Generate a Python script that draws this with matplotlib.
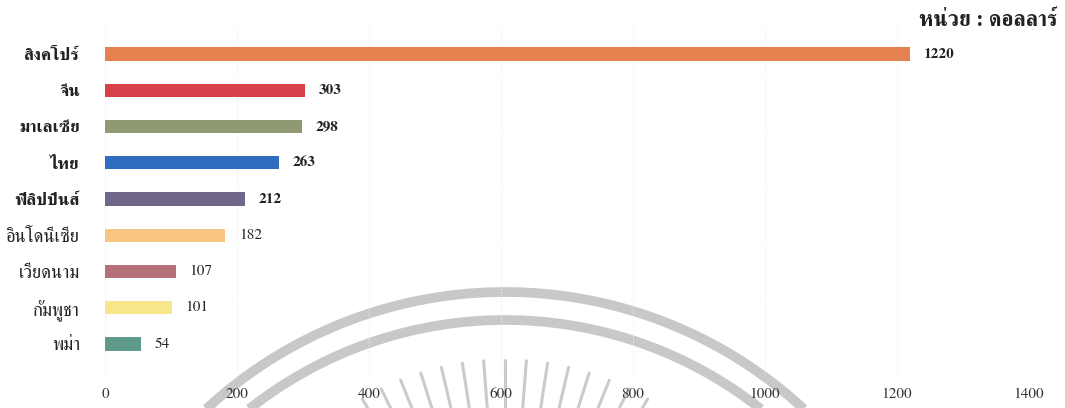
import numpy as np
import matplotlib
matplotlib.use("Agg")
import matplotlib.pyplot as plt

plt.rcParams['font.family'] = ['FreeSerif', 'DejaVu Sans']

countries = ['สิงคโปร์', 'จีน', 'มาเลเซีย', 'ไทย', 'ฟิลิปปินส์',
             'อินโดนีเซีย', 'เวียดนาม', 'กัมพูชา', 'พม่า']
values = [1220, 303, 298, 263, 212, 182, 107, 101, 54]
colors = ['#E5804F', '#D9414A', '#8F9A73', '#2F6DBF', '#70668A',
          '#F9C583', '#B5707A', '#F8E68A', '#5E9A8C']
bold_rows = 5  # top five drawn in bold in the original
unit_title = 'หน่วย : ดอลลาร์'
xticks = [0, 200, 400, 600, 800, 1000, 1200, 1400]

W, H = 1065, 408
fig = plt.figure(figsize=(W / 100, H / 100), dpi=100)

# faint seal watermark behind the chart (pixel coords)
bg = fig.add_axes([0, 0, 1, 1], zorder=0)
bg.set_xlim(0, W)
bg.set_ylim(H, 0)
bg.axis('off')
cx, cy = 505, 732
t = np.linspace(np.pi * 0.15, np.pi * 0.85, 400)
for r in (440, 412):
    bg.plot(cx + r * np.cos(t), cy - r * np.sin(t), color='#c8c8c8', lw=7,
            solid_capstyle='butt')
for a in np.linspace(55, 125, 17):
    ar = np.radians(a)
    r0, r1 = 200, 280
    bg.plot([505 + r0 * np.cos(ar), 505 + r1 * np.cos(ar)],
            [640 - r0 * np.sin(ar), 640 - r1 * np.sin(ar)],
            color='#cbcbcb', lw=2.2, solid_capstyle='round')

ax = fig.add_axes([105 / W, 1 - 375 / H, (1029 - 105) / W, 350 / H], zorder=1)
ax.patch.set_alpha(0)

y = np.arange(len(countries))
ax.barh(y, values, height=0.36, color=colors, zorder=2)

for i, v in enumerate(values):
    ax.annotate(str(v), (v, i), xytext=(10, 0), textcoords='offset points',
                va='center', ha='left', fontsize=11, color='#222222',
                fontweight='bold' if i < bold_rows else 'normal')

ax.set_xlim(0, 1400)
ax.set_ylim(8.855, -0.8)
ax.set_xticks(xticks)
ax.set_xticklabels([str(t) for t in xticks], fontsize=11, color='#333333')
ax.set_yticks(y)
ax.set_yticklabels(countries, color='#222222')
for i, lab in enumerate(ax.get_yticklabels()):
    if i < bold_rows:
        lab.set_fontweight('bold')
        lab.set_fontsize(12.5)
    else:
        lab.set_fontsize(13.3)

ax.tick_params(axis='x', length=0, pad=9)
ax.tick_params(axis='y', length=0, pad=18)
for s in ax.spines.values():
    s.set_visible(False)
ax.grid(axis='x', linestyle=':', color='#eeeeee', linewidth=0.8, zorder=0)
ax.set_axisbelow(True)

fig.text(1057 / W, 1 - 20 / H, unit_title, ha='right', va='center',
         fontsize=15.5, fontweight='bold', color='#222222')

fig.savefig('out.png', dpi=100)
